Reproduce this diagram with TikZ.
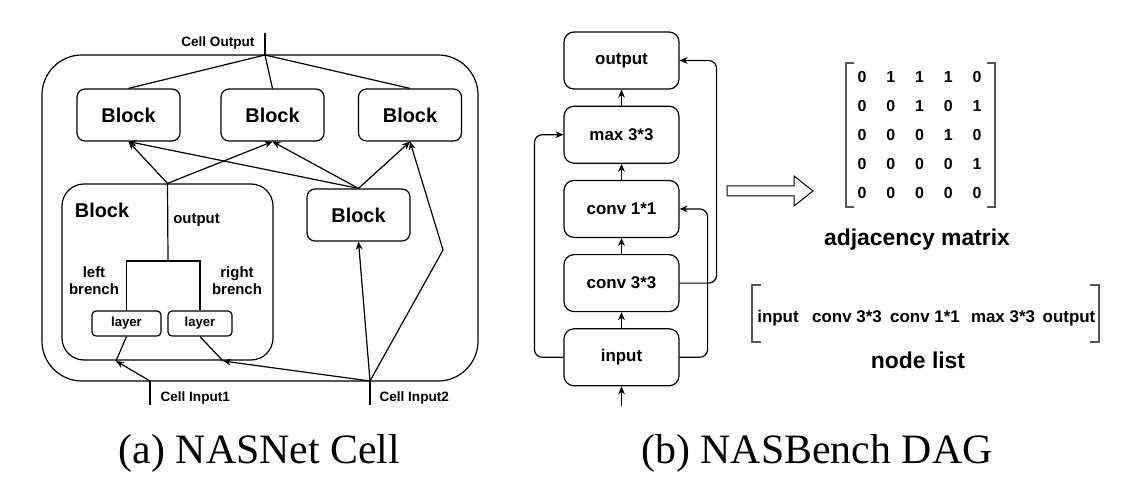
\documentclass[tikz,border=0pt]{standalone}
\usepackage{fontspec}
\setmainfont{Liberation Serif}
\setsansfont{Liberation Sans}
\usetikzlibrary{positioning,arrows.meta}
\definecolor{bracketGray}{HTML}{555555}

\begin{document}
\begin{tikzpicture}[x=0.5bp, y=-0.5bp, line width=0.6bp,
  every node/.style={font=\sffamily\bfseries},
  arr/.style={-{Stealth[length=4bp,width=3.4bp]}},
  cellbox/.style={draw, rounded corners=20bp},
  bigbox/.style={draw, rounded corners=11bp},
  blockbox/.style={draw, rounded corners=4bp, minimum width=51.5bp, minimum height=26bp, font=\sffamily\bfseries\fontsize{10}{12}\selectfont},
  layerbox/.style={draw, rounded corners=2bp, minimum height=12.5bp, inner sep=0pt, font=\sffamily\bfseries\fontsize{6.6}{8}\selectfont},
  dagbox/.style={draw, rounded corners=5bp, minimum width=57.5bp, minimum height=28.5bp, font=\sffamily\bfseries\fontsize{8.5}{10}\selectfont},
  titlelbl/.style={font=\sffamily\bfseries\fontsize{10}{12}\selectfont},
  smalllbl/.style={font=\sffamily\bfseries\fontsize{7.5}{8.5}\selectfont, inner sep=0pt},
  iolbl/.style={font=\sffamily\bfseries\fontsize{6.8}{8}\selectfont, inner sep=1bp},
  entry/.style={font=\sffamily\bfseries\fontsize{8}{10}\selectfont, inner sep=0pt},
  listlbl/.style={font=\sffamily\bfseries\fontsize{8.5}{10}\selectfont, inner sep=0pt, anchor=base},
  bigcap/.style={font=\sffamily\bfseries\fontsize{11.5}{13}\selectfont},
  caption/.style={font=\rmfamily\mdseries\fontsize{21}{24}\selectfont, anchor=base, inner sep=0pt}]
\useasboundingbox (0,0) rectangle (1126,491);

% (a) NASNet cell
\node[cellbox, minimum width=218bp, minimum height=163bp] (cell) at (260,218) {};
\node[blockbox] (blkA) at (128.5,115) {Block};
\node[blockbox] (blkB) at (272.5,115) {Block};
\node[blockbox] (blkC) at (410,115) {Block};
\node[blockbox] (blkD) at (358.5,215) {Block};
\node[bigbox, minimum width=105.5bp, minimum height=88bp] (blkBig) at (167.5,272) {};
\node[titlelbl] (bigTitle) at (102,210) {Block};
\node[smalllbl] (outLbl) at (196.5,220) {output};
\node[layerbox, minimum width=34.5bp] (layL) at (126.5,323.5) {layer};
\node[layerbox, minimum width=32bp] (layR) at (200,323.5) {layer};
\node[smalllbl, align=center] (leftLbl) at (94,280.5) {left\\brench};
\node[smalllbl, align=center] (rightLbl) at (237,280.5) {right\\brench};

\coordinate (split) at (168,261);
\coordinate (jL) at (116,361);
\coordinate (jR) at (223,361);
\coordinate (in1) at (150,381);
\coordinate (in1end) at (150,405);
\coordinate (in2) at (370,381);
\coordinate (in2end) at (370,405);
\coordinate (bend) at (443,250);
\coordinate (cellout) at (265,55);
\coordinate (celloutend) at (265,33);

\node[iolbl, anchor=east] (outName) at (257,43) {Cell Output};
\node[iolbl, anchor=west] (in1Name) at (158,398) {Cell Input1};
\node[iolbl, anchor=west] (in2Name) at (377,398) {Cell Input2};

\draw (celloutend) -- (cellout);
\foreach \b in {blkA,blkB,blkC} \draw (cellout) -- (\b.north);
\foreach \b in {blkA,blkB} \draw[arr] (blkBig.north) -- (\b.south);
\foreach \b in {blkA,blkB,blkC} \draw[arr] (blkD.north) -- (\b.south);
\draw (blkBig.north) -- (split);
\draw (layL.north) |- (split) -| (layR.north);
\draw (layL.south) -- (jL);
\draw (layR.south) -- (jR);
\draw[arr] (in1) -- (jL);
\draw[arr] (in2) -- (jR);
\draw[arr] (in2) -- (blkD.south);
\draw[arr] (in2) -- (bend) -- (blkC.south);
\draw (in1end) -- (in1);
\draw (in2end) -- (in2);

% (b) NASBench DAG
\node[dagbox] (outp) at (621.5,60.5) {output};
\node[dagbox, below=8bp of outp] (maxp) {max 3*3};
\node[dagbox, below=8bp of maxp] (conv11) {conv 1*1};
\node[dagbox, below=8bp of conv11] (conv33) {conv 3*3};
\node[dagbox, below=8bp of conv33] (inp) {input};
\coordinate[below=10bp of inp] (dagin);

\draw[arr] (dagin) -- (inp);
\foreach \a/\b in {inp/conv33, conv33/conv11, conv11/maxp, maxp/outp} \draw[arr] (\a) -- (\b);
\draw[arr, rounded corners=4bp] (inp.west) -- ++(-29,0) |- (maxp.west);
\draw[arr, rounded corners=4bp] (inp.east) -- ++(28,0) |- (conv11.east);
\draw[arr, rounded corners=4bp] (conv33.east) -- ++(37,0) |- (outp.east);

% hollow arrow
\draw[line width=0.5bp] (727,186) -- (794,186) -- (794,176) -- (813,191) -- (794,206) -- (794,196) -- (727,196) -- cycle;

% adjacency matrix
\foreach \row [count=\r] in {{0,1,1,1,0},{0,0,1,0,1},{0,0,0,1,0},{0,0,0,0,1},{0,0,0,0,0}}
  \foreach \v [count=\c] in \row
    \node[entry] (m-\r-\c) at (833.25+28.75*\c, 48+29*\r) {\v};
\draw[bracketGray] (854,63) -- (846,63) -- (846,207) -- (854,207);
\draw[bracketGray] (987,63) -- (995,63) -- (995,207) -- (987,207);
\node[bigcap] (adjLbl) at (917,240) {adjacency matrix};

% node list
\foreach \t/\x [count=\i] in {input/778, conv 3*3/847, conv 1*1/925, max 3*3/1003, output/1069}
  \node[listlbl] (nl-\i) at (\x,322) {\t};
\draw[bracketGray] (761,285) -- (752,285) -- (752,342) -- (761,342);
\draw[bracketGray] (1090,285) -- (1099,285) -- (1099,342) -- (1090,342);
\node[bigcap] (listLbl) at (918,360) {node list};

% captions
\node[caption] (capA) at (259.5,463) {(a) NASNet Cell};
\node[caption] (capB) at (817,463) {(b) NASBench DAG};
\end{tikzpicture}
\end{document}
